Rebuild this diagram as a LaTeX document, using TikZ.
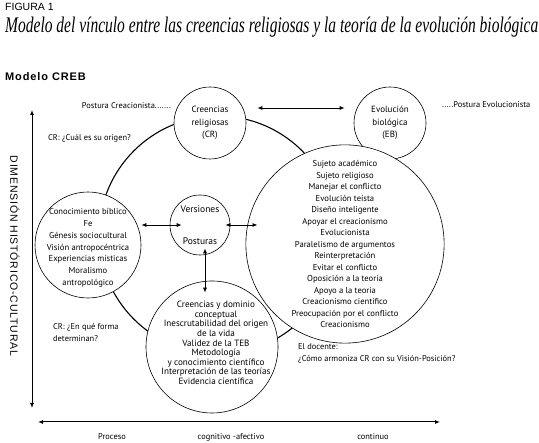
\documentclass[tikz,border=0pt]{standalone}
\usepackage{fontspec}
\setmainfont{PT Sans}
\newfontfamily\titlefont{Liberation Serif}
\newfontfamily\headfont{Liberation Sans}
\newfontfamily\spacedfont[LetterSpace=8]{Liberation Sans}
\usetikzlibrary{arrows.meta,calc}

\tikzset{
  ring/.style={draw, circle, line width=0.6pt, fill=white, inner sep=0pt, align=center},
  inside/.style={inner sep=0pt, align=center},
  twoway/.style={{Latex[length=5pt,width=4pt]}-{Latex[length=5pt,width=4pt]}, line width=0.9pt},
  axis/.style={{Latex[length=5pt,width=4pt]}-{Latex[length=5pt,width=4pt]}, line width=1pt},
  note/.style={font=\fontsize{8.4}{12}\selectfont, inner sep=0pt},
}

\begin{document}
\begin{tikzpicture}[x=1pt,y=1pt]
    \useasboundingbox (0,0) rectangle (539,443);

        % Headings
        \node[anchor=west, inner sep=0pt] (fig) at (5,436) {\headfont\fontsize{10.5}{12}\selectfont FIGURA 1};
        \node[anchor=base west, inner sep=0pt] (title) at (5,410)
            {\resizebox{533pt}{15.5pt}{\titlefont\itshape Modelo del vínculo entre las creencias religiosas y la teoría de la evolución biológica}};
        \node[anchor=base west, inner sep=0pt] (model) at (5,362) {\spacedfont\bfseries\fontsize{11}{12}\selectfont Modelo CREB};

        % Outer cycle
        \draw[line width=1.1pt] (218,208) circle (119pt);

        % Circles
        \node[ring, minimum size=72pt, font=\fontsize{9}{12.5}\selectfont] (cr) at (210,320) {Creencias\\religiosas\\(CR)};
        \node[ring, minimum size=72pt, font=\fontsize{9}{12.5}\selectfont] (eb) at (390,320) {Evolución\\biológica\\(EB)};
        \node[ring, minimum size=106pt] (know) at (88,198) {};
        \node[inside, font=\fontsize{8.6}{11.8}\selectfont] (knowtxt) at ($(know)+(0,-3)$)
            {Conocimiento bíblico\\Fe\\Génesis sociocultural\\Visión antropocéntrica\\Experiencias místicas\\Moralismo\\antropológico};
        \node[ring, minimum size=60pt, font=\fontsize{9.5}{12}\selectfont] (vp) at (200,218) {Versiones\\[20pt]Posturas};
        \node[ring, minimum size=180pt, font=\fontsize{8.6}{11.5}\selectfont] (pos) at (345,199)
            {Sujeto académico\\Sujeto religioso\\Manejar el conflicto\\Evolución teísta\\Diseño inteligente\\Apoyar el creacionismo\\Evolucionista\\Paralelismo de argumentos\\Reinterpretación\\Evitar el conflicto\\Oposición a la teoría\\Apoyo a la teoría\\Creacionismo científico\\Preocupación por el conflicto\\Creacionismo};
        \node[ring, minimum size=132pt] (dom) at (212,96) {};
        \node[inside, font=\fontsize{9.1}{9.6}\selectfont] (domtxt) at ($(dom)+(4,4)$)
            {Creencias y dominio\\conceptual\\Inescrutabilidad del origen\\de la vida\\Validez de la TEB\\Metodología\\y conocimiento científico\\Interpretación de las teorías\\Evidencia científica};

        % Links between circles
        \draw[twoway] ($(cr.east)+(11,15)$) -- ($(eb.west)+(-9,15)$);
        \draw[twoway] (know.east |- vp.center) -- ($(vp.west)+(12,0)$);
        \draw[twoway] ($(vp.east)+(-5,0)$) -- ($(pos.west |- vp.center)+(12,0)$);
        \draw[twoway] ($(vp.south)+(5,7)$) -- ($(dom.north)+(-7,-12)$);

        % Side notes
        \node[note, anchor=east] (crea) at (171,337) {Postura Creacionista.......};
        \node[note, anchor=west] (evol) at (442,338) {.....Postura Evolucionista};
        \node[note, anchor=west] (orig) at (48,305) {CR: ¿Cuál es su origen?};
        \node[note, anchor=west, align=left] (form) at (53,110) {CR: ¿En qué forma\\determinan?};
        \node[note, anchor=west, align=left] (doc) at (298,90) {El docente:\\¿Cómo armoniza CR con su Visión-Posición?};

        % Axes
        \coordinate (ytop) at (32,333);
        \coordinate (ybot) at (32,35);
        \coordinate (xleft) at (38,21);
        \coordinate (xright) at (440,21);
        \draw[axis] (ytop) -- (ybot);
        \draw[axis] (xleft) -- (xright);
        \node[rotate=-90, inner sep=0pt] (dim) at (15,187)
            {\spacedfont\fontsize{10.5}{12}\selectfont DIMENSIÓN HISTÓRICO-CULTURAL};
        \node[note] (proc) at (112,6) {Proceso};
        \node[note] (cog) at (231,6) {cognitivo -afectivo};
        \node[note] (cont) at (373,6) {continuo};

\end{tikzpicture}
\end{document}
